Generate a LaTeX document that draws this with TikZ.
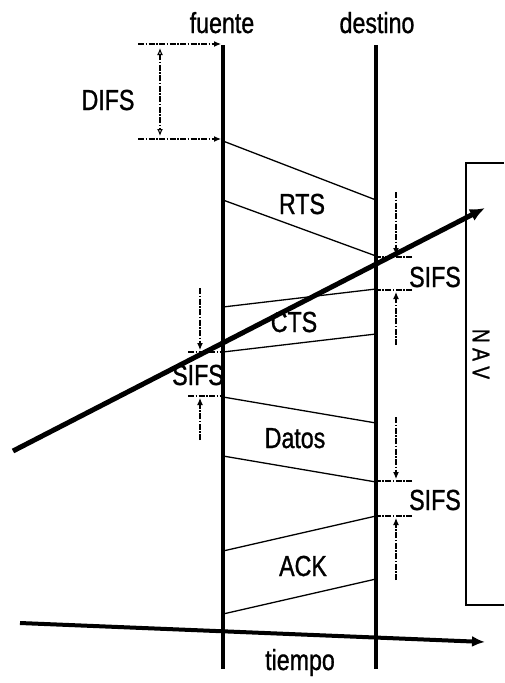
\documentclass[tikz,border=0pt]{standalone}
\usepackage{fontspec}
\setmainfont[FakeStretch=0.8, FakeBold=1]{Liberation Sans}
\usetikzlibrary{arrows.meta}

\begin{document}
\begin{tikzpicture}[x=1pt, y=-1pt,
        station/.style={line width=4pt},
        msg/.style={line width=1.3pt},
        guide/.style={line width=1.1pt, dash pattern=on 6pt off 1.5pt on 1.5pt off 1.5pt},
        tip/.style={-{Latex[length=7pt,width=6pt]}},
        lbl/.style={font=\fontsize{29}{31}\selectfont, inner sep=0pt, anchor=base}]

        \useasboundingbox (0,0) rectangle (504,683);

        % Stations
        \coordinate (ftop) at (223,45);
        \coordinate (fbot) at (223,669);
        \coordinate (dtop) at (376,45);
        \coordinate (dbot) at (376,669);
        \draw[station] (ftop) -- (fbot);
        \draw[station] (dtop) -- (dbot);
        \node[lbl] (fuente) at (222,33) {fuente};
        \node[lbl] (destino) at (377,33) {destino};

        % DIFS
        \coordinate (difsA) at (138,44);
        \coordinate (difsB) at (138,139);
        \draw[guide, tip, shorten >=2pt] (difsA) -- (difsA -| ftop);
        \draw[guide, tip, shorten >=2pt] (difsB) -- (difsB -| ftop);
        \coordinate (difsU) at (160,48);
        \coordinate (difsD) at (160,136);
        \draw[guide, {Latex[length=7pt,width=6pt,open]}-{Latex[length=7pt,width=6pt,open]}] (difsU) -- (difsD);
        \node[lbl] (difs) at (108,110) {DIFS};

        % RTS
        \coordinate (f1) at (223,141);
        \coordinate (d1) at (376,200);
        \coordinate (f2) at (223,200);
        \coordinate (d2) at (376,256);
        \draw[msg] (f1) -- (d1);
        \draw[msg] (f2) -- (d2);
        \node[lbl] (rts) at (302,214) {RTS};

        % SIFS at destino (after RTS)
        \coordinate (s1a) at (412,257);
        \coordinate (s1b) at (412,290);
        \draw[guide] (s1a) -- (s1a -| dtop);
        \draw[guide] (s1b) -- (s1b -| dtop);
        \coordinate (s1top) at (396,192);
        \coordinate (s1bot) at (396,345);
        \draw[guide, tip] (s1top) -- (396,255);
        \draw[guide, tip] (s1bot) -- (396,292);
        \node[lbl] (sifs1) at (435,287) {SIFS};

        % CTS
        \coordinate (d3) at (376,289);
        \coordinate (f3) at (223,307);
        \coordinate (d4) at (376,334);
        \coordinate (f4) at (223,352);
        \draw[msg] (d3) -- (f3);
        \draw[msg] (d4) -- (f4);
        \node[lbl] (cts) at (294,332) {CTS};

        % SIFS at fuente (after CTS)
        \coordinate (s2a) at (188,352);
        \coordinate (s2b) at (188,396);
        \draw[guide] (s2a) -- (s2a -| ftop);
        \draw[guide] (s2b) -- (s2b -| ftop);
        \coordinate (s2top) at (200,288);
        \coordinate (s2bot) at (200,440);
        \draw[guide, tip] (s2top) -- (200,350);
        \draw[guide, tip] (s2bot) -- (200,398);
        \node[lbl] (sifs2) at (198,385) {SIFS};

        % Datos
        \coordinate (f5) at (223,397);
        \coordinate (d5) at (376,423);
        \coordinate (f6) at (223,456);
        \coordinate (d6) at (376,482);
        \draw[msg] (f5) -- (d5);
        \draw[msg] (f6) -- (d6);
        \node[lbl] (datos) at (295,448) {Datos};

        % SIFS at destino (after Datos)
        \coordinate (s3a) at (412,481);
        \coordinate (s3b) at (412,516);
        \draw[guide] (s3a) -- (s3a -| dtop);
        \draw[guide] (s3b) -- (s3b -| dtop);
        \coordinate (s3top) at (396,417);
        \coordinate (s3bot) at (396,580);
        \draw[guide, tip] (s3top) -- (396,479);
        \draw[guide, tip] (s3bot) -- (396,518);
        \node[lbl] (sifs3) at (435,510) {SIFS};

        % ACK
        \coordinate (d7) at (376,516);
        \coordinate (f7) at (223,551);
        \coordinate (d8) at (376,579);
        \coordinate (f8) at (223,614);
        \draw[msg] (d7) -- (f7);
        \draw[msg] (d8) -- (f8);
        \node[lbl] (ack) at (303,576) {ACK};

        % NAV
        \draw[line width=1.2pt] (504,163) -- (466,163) -- (466,605) -- (504,605);
        \node[font=\fontsize{24}{26}\selectfont, rotate=-90, inner sep=0pt] (nav) at (481,354) {N A V};

        % Time axes
        \coordinate (t0) at (20,623);
        \coordinate (t1) at (485,642);
        \draw[line width=4pt, -{Latex[length=13pt,width=11pt]}] (t0) -- (t1);
        \node[lbl] (tiempo) at (300,670) {tiempo};

        \coordinate (n0) at (13,451);
        \coordinate (n1) at (485,208);
        \draw[line width=5pt, -{Latex[length=15pt,width=13pt]}] (n0) -- (n1);
    \end{tikzpicture}
\end{document}
